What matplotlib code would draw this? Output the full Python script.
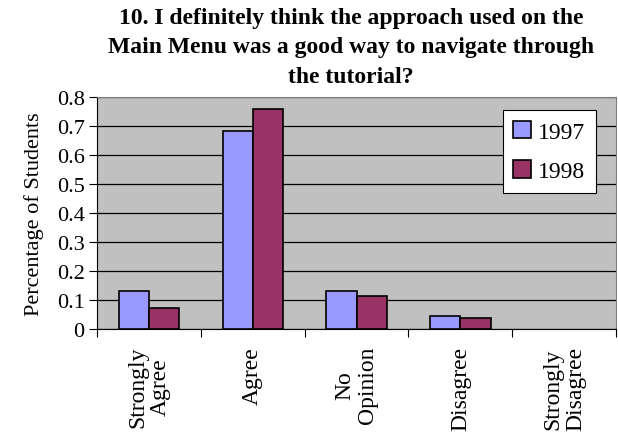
import numpy as np
import matplotlib.pyplot as plt

categories = ['Strongly\nAgree', 'Agree', 'No\nOpinion', 'Disagree', 'Strongly\nDisagree']
series_1997 = [0.13, 0.685, 0.13, 0.046, 0.0]
series_1998 = [0.074, 0.76, 0.114, 0.039, 0.0]
years = ['1997', '1998']
yticks = [0, 0.1, 0.2, 0.3, 0.4, 0.5, 0.6, 0.7, 0.8]

plt.rcParams['font.family'] = ['Liberation Serif', 'DejaVu Serif']

fig = plt.figure(figsize=(6.18, 4.39), dpi=100)
ax = fig.add_axes([0.157, 0.248, 0.84, 0.528])

ind = np.arange(len(categories))
width = 0.29
ax.set_facecolor('#c0c0c0')
# zero-height bars show no outline in the original
lw1 = [1.2 if v > 0 else 0 for v in series_1997]
lw2 = [1.2 if v > 0 else 0 for v in series_1998]
ax.bar(ind - width / 2, series_1997, width, color='#9999ff', edgecolor='black', linewidth=lw1, label=years[0], zorder=3)
ax.bar(ind + width / 2, series_1998, width, color='#993366', edgecolor='black', linewidth=lw2, label=years[1], zorder=3)

ax.set_xlim(-0.5, len(categories) - 0.5)
ax.set_ylim(0, 0.8)
ax.set_yticks(yticks)
ax.set_yticklabels(['0' if v == 0 else '%.1f' % v for v in yticks], fontsize=16)
ax.yaxis.grid(True, color='black', linewidth=0.9, zorder=0)
ax.set_axisbelow(True)

# category boundaries carry the tick marks, labels sit in between
ax.set_xticks(np.arange(len(categories) + 1) - 0.5)
ax.set_xticklabels([])
ax.set_xticks(ind, minor=True)
ax.set_xticklabels(categories, minor=True, rotation=90, fontsize=17, va='top', ha='center',
                   multialignment='center', linespacing=1.1)
ax.tick_params(axis='x', which='minor', length=0, pad=12)
ax.tick_params(axis='x', which='major', length=6, direction='out', color='black')
ax.tick_params(axis='y', length=6, direction='out', pad=3)

for side in ['top', 'right']:
    ax.spines[side].set_color('#808080')
    ax.spines[side].set_linewidth(0.8)
ax.spines['left'].set_color('black')
ax.spines['bottom'].set_color('black')

ax.set_ylabel('Percentage of Students', fontsize=16, labelpad=9)

fig.text(0.568, 0.982, '10. I definitely think the approach used on the\nMain Menu was a good way to navigate through\nthe tutorial?',
         ha='center', va='top', fontsize=17, fontweight='bold', linespacing=1.52)

leg = ax.legend(loc='upper right', bbox_to_anchor=(0.961, 0.945), borderaxespad=0, fontsize=17, frameon=True,
                fancybox=False, handlelength=0.75, handleheight=0.75, handletextpad=0.3, labelspacing=0.75,
                borderpad=0.45)
leg.get_frame().set_edgecolor('black')
leg.get_frame().set_linewidth(0.8)
leg.get_frame().set_alpha(1)

fig.savefig('out.png', dpi=100)
